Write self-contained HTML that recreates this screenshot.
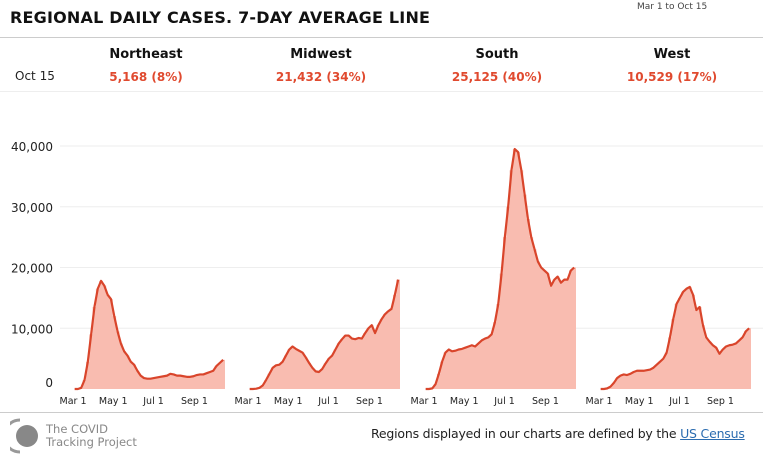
<!DOCTYPE html>
<html><head><meta charset="utf-8">
<style>
body{margin:0;width:763px;height:457px;background:#fff;font-family:"DejaVu Sans","Liberation Sans",sans-serif;overflow:hidden;position:relative}
.t{position:absolute;white-space:nowrap}
</style></head><body>
<div class="t" style="left:10px;top:8px;font-size:16px;font-weight:bold;color:#111;letter-spacing:0.2px">REGIONAL DAILY CASES. 7-DAY AVERAGE LINE</div>
<div class="t" style="left:637px;top:2px;font-size:9px;color:#444">Mar 1 to Oct 15</div>
<div style="position:absolute;left:0;top:37px;width:763px;height:1px;background:#ccc"></div>
<div style="position:absolute;left:0;top:91px;width:763px;height:1px;background:#eee"></div>
<div style="position:absolute;left:0;top:412px;width:763px;height:1px;background:#ccc"></div>
<div class="t" style="left:15px;top:69px;font-size:12px;color:#222">Oct 15</div>
<svg id="c" width="763" height="457" style="position:absolute;left:0;top:0"></svg>
<svg width="28" height="36" style="position:absolute;left:10px;top:418px"><path d="M10 2 A16 16 0 0 0 10 34" stroke="#999" stroke-width="3" fill="none"/><circle cx="17" cy="18" r="11" fill="#888"/></svg>
<div class="t" style="left:46px;top:423px;font-size:11.5px;line-height:13px;color:#888">The COVID<br>Tracking Project</div>
<div class="t" style="left:371px;top:426px;font-size:12.5px;letter-spacing:-0.2px;color:#222">Regions displayed in our charts are defined by the <span style="color:#2b6cb0;text-decoration:underline">US Census</span></div>
<script>
const regions=["Northeast","Midwest","South","West"];
const latest=["5,168 (8%)","21,432 (34%)","25,125 (40%)","10,529 (17%)"];
const yTicks=[0,10000,20000,30000,40000];
const yTickLabels=["0","10,000","20,000","30,000","40,000"];
const xTickDays=[0,61,122,184];
const xTickLabels=["Mar 1","May 1","Jul 1","Sep 1"];
const neAvg=[0,0,200,1500,4500,9000,13500,16500,17800,17000,15500,14800,12000,9500,7500,6200,5500,4500,4000,3000,2200,1800,1700,1700,1800,1900,2000,2100,2200,2500,2400,2200,2200,2100,2000,2000,2100,2300,2400,2400,2600,2800,3000,3800,4300,4800];
const mwAvg=[0,0,50,200,600,1500,2500,3500,3900,4000,4500,5500,6500,7000,6600,6300,6000,5200,4300,3500,2900,2800,3300,4200,5000,5500,6500,7500,8200,8800,8800,8300,8200,8400,8300,9200,10000,10500,9200,10500,11500,12300,12800,13200,15500,18000];
const soAvg=[0,0,100,800,2500,4500,6000,6500,6200,6300,6500,6600,6800,7000,7200,7000,7500,8000,8300,8500,9000,11000,14000,19000,25000,30000,36000,39500,39000,36000,32000,28000,25000,23000,21000,20000,19500,19000,17000,18000,18500,17500,18000,18000,19500,20000];
const weAvg=[0,0,100,400,1000,1800,2200,2400,2300,2500,2800,3000,3000,3000,3100,3200,3500,4000,4500,5000,6000,8500,11500,14000,15000,16000,16500,16800,15500,13000,13500,10500,8500,7800,7200,6800,5800,6500,7000,7200,7300,7500,8000,8500,9500,10000];
const series=[neAvg,mwAvg,soAvg,weAvg];
const STEP=5;
const ns="http://www.w3.org/2000/svg";
const svg=document.getElementById('c');
const origins=[73,248,424,599], centers=[146,321,497,672];
const pxDay=0.66;
const y=v=>389-v*243/40000;
function mk(t,a){const e=document.createElementNS(ns,t);for(const k in a)e.setAttribute(k,a[k]);svg.appendChild(e);return e;}
yTicks.forEach((v,i)=>{
  if(v>0){const g=mk('line',{x1:60,x2:763,y1:y(v),y2:y(v),stroke:'#eee','stroke-width':1});
  
  }
  const t=mk('text',{x:53,y:y(v)+(v?5:-2),'text-anchor':'end','font-size':12,fill:'#222'});
  
  
  t.textContent=yTickLabels[i];
});
series.forEach((s,r)=>{
  const x=d=>origins[r]+d*pxDay;
  const h=mk('text',{x:centers[r],y:58,'text-anchor':'middle','font-size':13,'font-weight':'bold',fill:'#111'});
  
  
  h.textContent=regions[r];
  const v=mk('text',{x:centers[r],y:81,'text-anchor':'middle','font-size':12,'font-weight':'bold',fill:'#e04a2f'});
  
  
  v.textContent=latest[r];
  s.forEach((val,i)=>{
    const b=mk('rect',{x:x(i*STEP)-0.2,y:y(val),width:STEP*pxDay+0.4,height:389-y(val),fill:'#f9bcb0'});
    
    
  });
  const p=mk('polyline',{points:s.map((val,i)=>x(i*STEP+STEP/2)+','+y(val)).join(' '),fill:'none',stroke:'#d9452b','stroke-width':2.2,'stroke-linejoin':'round'});
  
  
  xTickDays.forEach((d,i)=>{
    const t=mk('text',{x:x(d),y:404,'text-anchor':'middle','font-size':9.5,fill:'#222'});
    
    
    t.textContent=xTickLabels[i];
  });
});
</script>
</body></html>
